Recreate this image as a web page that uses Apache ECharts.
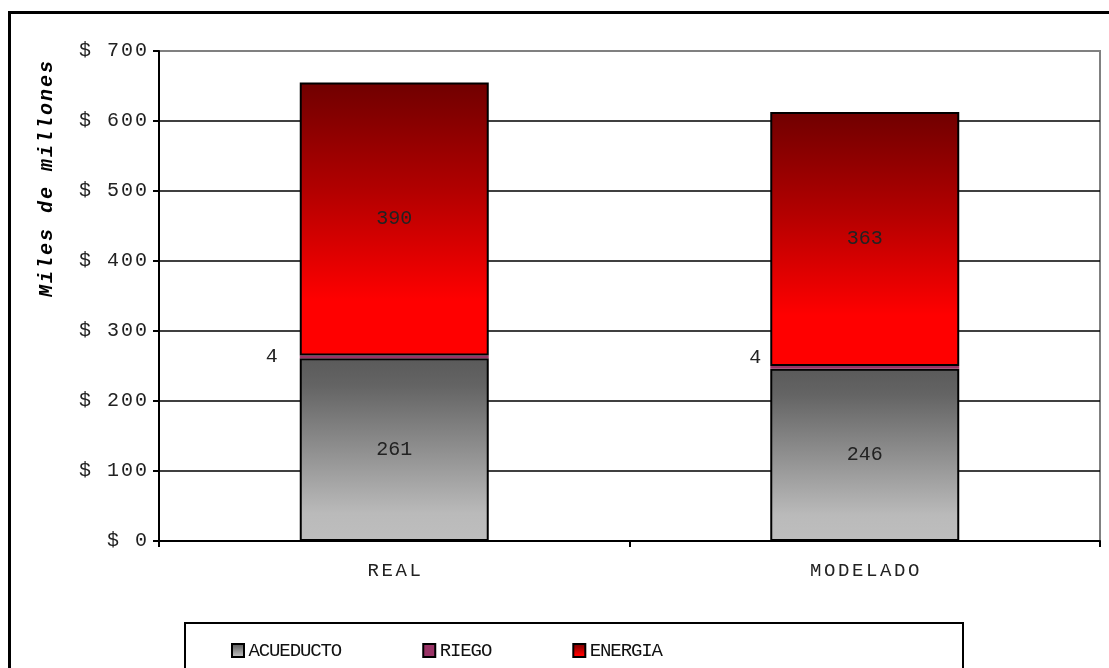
<!DOCTYPE html>
<html>
<head>
<meta charset="utf-8">
<script src="https://cdn.jsdelivr.net/npm/echarts@6/dist/echarts.min.js"></script>
<style>html,body{margin:0;padding:0;background:#fff}#c{width:1109px;height:668px}</style>
</head>
<body>
<div id="c"></div>
<script>
const categories = ['REAL', 'MODELADO'];
const acueducto = [261, 246];
const riego = [4, 4];
const energia = [390, 363];
const yTicks = [0, 100, 200, 300, 400, 500, 600, 700];
const seriesNames = ['ACUEDUCTO', 'RIEGO', 'ENERGIA'];
const yTitle = 'Miles de millones';

const MONO = '"Liberation Mono", "Courier New", monospace';
function spaced(str, key) {
  return String(str).split('').map(ch => '{' + key + '|' + ch + '}').join('');
}
function cell(size, w, extra) {
  return Object.assign({ width: w, align: 'center', fontFamily: MONO, fontSize: size, color: '#222' }, extra || {});
}

const chart = echarts.init(document.getElementById('c'), null, { renderer: 'canvas' });

const labelStyle = {
  show: true,
  formatter: p => spaced(p.value, 'd'),
  rich: { d: cell(20, 12) }
};
// riego labels: placement tweaks per bar to follow the reference
const riegoLabelTweaks = [{ distance: 22, offset: [0, 0] }, { distance: 9, offset: [0, -10] }];
const riegoData = riego.map((v, i) => ({ value: v, label: riegoLabelTweaks[i] }));

const option = {
  animation: false,
  backgroundColor: '#fff',
  grid: { left: 159, right: 9, top: 51, bottom: 127, show: true, borderColor: '#808080', borderWidth: 2, backgroundColor: 'transparent' },
  xAxis: {
    type: 'category',
    data: categories,
    axisLine: { lineStyle: { color: '#000', width: 2 } },
    axisTick: { show: true, length: 6, lineStyle: { color: '#000', width: 2 } },
    axisLabel: {
      margin: 20,
      formatter: v => spaced(v, 'x'),
      rich: { x: cell(19, 14) }
    }
  },
  yAxis: {
    type: 'value',
    min: 0, max: 700, interval: 100,
    axisLine: { show: true, lineStyle: { color: '#000', width: 2 } },
    axisTick: { show: true, length: 6, lineStyle: { color: '#000', width: 2 } },
    splitLine: { show: true, lineStyle: { color: ['#000', '#000', '#000', '#000', '#000', '#000', '#000', '#808080'], width: 1.5 } },
    axisLabel: {
      margin: 11,
      formatter: v => yTicks.indexOf(v) >= 0 ? spaced('$ ' + v, 'y') : '',
      rich: { y: cell(20, 14) }
    }
  },
  legend: {
    data: seriesNames,
    left: 226, top: 636,
    itemWidth: 12, itemHeight: 13, itemGap: 80,
    icon: 'rect',
    itemStyle: { borderColor: '#000', borderWidth: 2 },
    formatter: n => spaced(n, 'l'),
    textStyle: { rich: { l: cell(19, 10.3, { color: '#111' }) } }
  },
  series: [
    {
      name: seriesNames[0], type: 'bar', stack: 'total', barWidth: 189, data: acueducto,
      itemStyle: {
        color: new echarts.graphic.LinearGradient(0, 0, 0, 1, [
          { offset: 0, color: '#5a5a5a' }, { offset: 0.15, color: '#646464' }, { offset: 0.85, color: '#bababa' }, { offset: 1, color: '#bebebe' }
        ]),
        borderColor: '#000', borderWidth: 2
      },
      label: Object.assign({ position: 'inside' }, labelStyle)
    },
    {
      name: seriesNames[1], type: 'bar', stack: 'total', data: riegoData,
      itemStyle: { color: '#993366', borderColor: '#000', borderWidth: 0 },
      label: Object.assign({ position: 'left' }, labelStyle)
    },
    {
      name: seriesNames[2], type: 'bar', stack: 'total', data: energia,
      itemStyle: {
        color: new echarts.graphic.LinearGradient(0, 0, 0, 1, [
          { offset: 0, color: '#700000' }, { offset: 0.4, color: '#b30000' }, { offset: 0.8, color: '#ff0000' }, { offset: 1, color: '#ff0000' }
        ]),
        borderColor: '#000', borderWidth: 2
      },
      label: Object.assign({ position: 'inside' }, labelStyle)
    }
  ],
  graphic: [
    { type: 'rect', shape: { x: 9.5, y: 12.5, width: 1200, height: 700 }, style: { fill: 'none', stroke: '#000', lineWidth: 3 }, silent: true, z: 100 },
    { type: 'rect', shape: { x: 185, y: 623, width: 778, height: 80 }, style: { fill: 'none', stroke: '#000', lineWidth: 2 }, silent: true, z: 100 },
    {
      type: 'text', x: 47, y: 179, rotation: Math.PI / 2,
      style: {
        text: spaced(yTitle, 't'),
        align: 'center', verticalAlign: 'middle',
        rich: { t: cell(20, 14, { fontWeight: 'bold', fontStyle: 'italic', color: '#000' }) }
      }
    }
  ]
};
chart.setOption(option);
</script>
</body>
</html>
